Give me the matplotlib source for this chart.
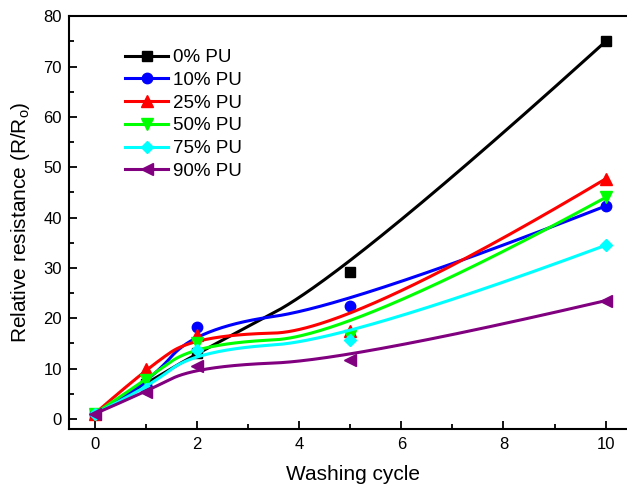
import numpy as np
from matplotlib import pyplot as plt
from matplotlib.lines import Line2D

plt.rcParams['font.family'] = ['Liberation Sans', 'DejaVu Sans']

# dados
ciclos = [0, 1, 2, 5, 10]
pu_0 = [1.0, 7.0, 13.0, 29.1, 75.0]
pu_10 = [1.0, 6.5, 18.2, 22.5, 42.3]
pu_25 = [1.0, 9.9, 16.7, 17.4, 47.7]
pu_50 = [1.0, 7.8, 15.0, 16.4, 44.0]
pu_75 = [1.0, 6.0, 13.7, 15.7, 34.5]
pu_90 = [1.0, 5.4, 10.5, 11.7, 23.5]
legendas = ['0% PU', '10% PU', '25% PU', '50% PU', '75% PU', '90% PU']
series = [pu_0, pu_10, pu_25, pu_50, pu_75, pu_90]
cores = ['#000000', '#0000FF', '#FF0000', '#00FF00', '#00FFFF', '#800080']
marcadores = ['s', 'o', '^', 'v', 'D', '<']
tamanhos = [7, 7.5, 8, 8, 6.5, 8]


# B-spline quadratica (igual à ligação "B-spline" do Origin)
def bspline(px, py, k=2, n=300):
    m = len(px)
    knots = np.r_[np.zeros(k), np.linspace(0, 1, m - k + 1), np.ones(k)]
    t = np.linspace(0, 1, n)
    B = np.zeros((n, len(knots) - 1))
    for i in range(len(knots) - 1):
        B[:, i] = (knots[i] <= t) & (t < knots[i + 1])
    B[t >= 1, m - 1] = 1
    for d in range(1, k + 1):
        for i in range(len(knots) - 1 - d):
            den1 = knots[i + d] - knots[i]
            den2 = knots[i + d + 1] - knots[i + 1]
            a = (t - knots[i]) / den1 if den1 > 0 else 0
            b = (knots[i + d + 1] - t) / den2 if den2 > 0 else 0
            B[:, i] = a * B[:, i] + b * B[:, i + 1]
    B = B[:, :m]
    return B @ np.asarray(px, float), B @ np.asarray(py, float)


fig = plt.figure(figsize=(6.27, 4.84), dpi=100)
ax = fig.add_axes([0.110, 0.1136, 0.905, 0.853])

handles = []
for y, cor, mk, ms, lab in zip(series, cores, marcadores, tamanhos, legendas):
    sx, sy = bspline(ciclos, y)
    ax.plot(sx, sy, color=cor, lw=2.2)
    ax.plot(ciclos, y, ls='none', marker=mk, color=cor, ms=ms)
    handles.append(Line2D([], [], color=cor, lw=2.2, marker=mk, ms=ms, label=lab))

ax.set_xlim(-0.5, 10.6)
ax.set_ylim(-2, 80)
ax.set_xticks([0, 2, 4, 6, 8, 10])
ax.set_xticks(range(0, 11), minor=True)
ax.set_yticks(range(0, 81, 10))
ax.set_yticks(range(0, 81, 5), minor=True)
ax.tick_params(which='both', direction='in', width=1.3, labelsize=12)
ax.tick_params(which='major', length=6, pad=6)
ax.tick_params(which='minor', length=3.5)
ax.tick_params(axis='y', which='major', pad=5)
for s in ax.spines.values():
    s.set_linewidth(1.5)

ax.set_xlabel('Washing cycle', fontsize=15, labelpad=9)
ax.set_ylabel('Relative resistance (R/R$_\\mathregular{o}$)', fontsize=15, labelpad=8)

ax.legend(handles=handles, loc='upper left', frameon=False, fontsize=13.5,
          bbox_to_anchor=(125 / 627, 1 - 49 / 484), bbox_transform=fig.transFigure,
          borderpad=0, borderaxespad=0, labelspacing=0.3, handlelength=2.3,
          handletextpad=0.25)

fig.savefig('out.png', dpi=100)
